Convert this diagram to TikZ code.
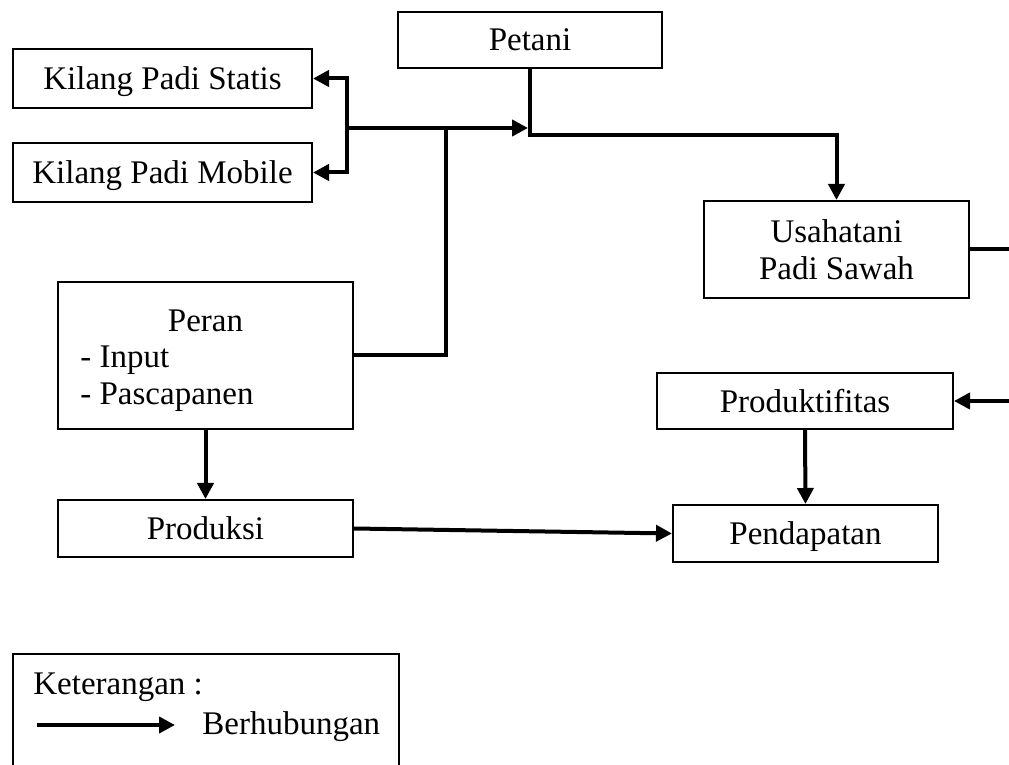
\documentclass[tikz,border=0pt]{standalone}
\usepackage{fontspec}
\setmainfont{Liberation Serif}
\usetikzlibrary{arrows.meta}
\begin{document}
\begin{tikzpicture}[x=0.5pt,y=-0.5pt,
  every node/.style={font=\fontsize{16.5pt}{18.5pt}\selectfont, inner sep=0pt},
  box/.style={draw, line width=1pt, rectangle, align=center, text depth=0pt},
  conn/.style={line width=2pt},
  arr/.style={conn, -{Triangle[length=8pt,width=8pt]}},
  lefttxt/.style={anchor=base west},
  midtxt/.style={anchor=base}]
\useasboundingbox (0,0) rectangle (1009,765);
\clip (0,0) rectangle (1009,765);
% boxes
\node[box, minimum width=132pt, minimum height=28pt] (petani) at (530,40) {Petani};
\node[box, minimum width=149.5pt, minimum height=29.5pt] (statis) at (162.5,78.5) {Kilang Padi Statis};
\node[box, minimum width=149.5pt, minimum height=29.5pt] (mobile) at (162.5,172.5) {Kilang Padi Mobile};
\node[box, minimum width=132.5pt, minimum height=48.5pt] (usaha) at (836.5,249.5) {Usahatani\\Padi Sawah};
\node[box, minimum width=147.5pt, minimum height=73.5pt] (peran) at (205.5,355.5) {};
\node[midtxt] (perant) at (205.5,332) {Peran};
\node[lefttxt] (peran1) at (80,368) {- Input};
\node[lefttxt] (peran2) at (80,405) {- Pascapanen};
\node[box, minimum width=148pt, minimum height=28pt] (produktif) at (805,401) {Produktifitas};
\node[box, minimum width=147.5pt, minimum height=28.5pt] (produksi) at (205.5,528.5) {Produksi};
\node[box, minimum width=132.5pt, minimum height=28.5pt] (pendapatan) at (805.5,533.5) {Pendapatan};
% legend
\node[box, minimum width=193pt, minimum height=75pt] (ket) at (206,728.5) {};
\node[lefttxt] (kett) at (33,694) {Keterangan :};
\coordinate (la) at (37,725);
\coordinate (lb) at (175,725);
\draw[arr] (la) -- (lb);
\node[lefttxt] (berh) at (202,734) {Berhubungan};
% connectors
\coordinate (j) at (347,128);
\coordinate (pv) at (528,128);
\draw[conn] (peran.east) -| (446,128);
\draw[arr] (j) -- (pv);
\draw[arr] (j) |- (statis.east);
\draw[arr] (j) |- (mobile.east);
\draw[arr] (petani.south) -- ++(0,66) -| (usaha.north);
\draw[arr] (usaha.east) -- (1014,249.5) |- (produktif.east);
\draw[arr] (produktif.south) -- (pendapatan.north);
\draw[arr] (peran.south) -- (produksi.north);
\draw[arr] (produksi.east) -- (pendapatan.west);
\end{tikzpicture}
\end{document}
